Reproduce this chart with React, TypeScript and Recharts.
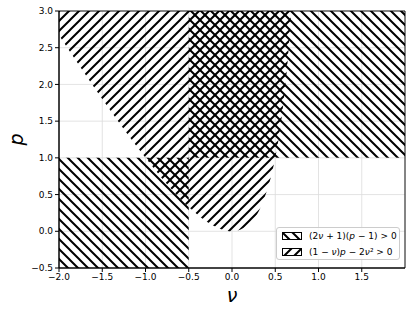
import React from 'react';
import { ComposedChart, Area, XAxis, YAxis, CartesianGrid, ReferenceArea } from 'recharts';

const nuTicks = [-2, -1.5, -1, -0.5, 0, 0.5, 1, 1.5];
const pTicks = [-0.5, 0, 0.5, 1, 1.5, 2, 2.5, 3];

// lower edge of the (1 - ν)p - 2ν² > 0 region
const boundaryNu = [-2, -1.75, -1.5, -1.25, -1, -0.75, -0.5, -0.25, 0, 0.2, 0.35, 0.45, 0.5, 0.55, 0.6, 0.65, 0.685];
const boundaryP = [2.67, 2.23, 1.8, 1.39, 1.0, 0.64, 0.33, 0.1, 0, 0.1, 0.38, 0.74, 1.0, 1.34, 1.8, 2.41, 3.0];

// (2ν + 1)(p - 1) > 0 : two rectangles
const rectNu1 = [-0.5, -2];
const rectNu2 = [2, -0.5];
const rectP1 = [1, -0.5];
const rectP2 = [3, 1];

const legendLabels = ['(2ν + 1)(p − 1) > 0', '(1 − ν)p − 2ν² > 0'];

const band = boundaryNu.map((nu, i) => ({ nu, range: [boundaryP[i], 3] }));

const fmt = (v: number) => v.toFixed(1).replace('-', '\u2212');

const FONT = '"DejaVu Sans", sans-serif';

if (typeof document !== 'undefined') document.body.style.margin = '0';

const Hatch = ({ id, dir }: { id: string; dir: 'back' | 'fwd' }) => {
  const s = 10;
  const d =
    dir === 'back'
      ? `M0,0 L${s},${s} M${-s / 2},${s / 2} L${s / 2},${s * 1.5} M${s / 2},${-s / 2} L${s * 1.5},${s / 2}`
      : `M0,${s} L${s},0 M${-s / 2},${s / 2} L${s / 2},${-s / 2} M${s / 2},${s * 1.5} L${s * 1.5},${s / 2}`;
  return (
    <pattern id={id} patternUnits="userSpaceOnUse" width={s} height={s}>
      <path d={d} stroke="#000" strokeWidth={2} fill="none" />
    </pattern>
  );
};

const MathLabel = ({ text }: { text: string }) => (
  <span>
    {text.split('').map((c, i) =>
      c === 'ν' || c === 'p' ? (
        <i key={i}>{c}</i>
      ) : (
        <span key={i}>{c}</span>
      )
    )}
  </span>
);

export default function App() {
  return (
    <div style={{ position: 'relative', width: 415, height: 314, background: '#fff', fontFamily: FONT }}>
      <ComposedChart
        width={415}
        height={314}
        data={band}
        margin={{ top: 11, right: 10, left: 9, bottom: 10 }}
      >
        <defs>
          <Hatch id="hatchBack" dir="back" />
          <Hatch id="hatchFwd" dir="fwd" />
        </defs>
        <CartesianGrid stroke="#dcdcdc" strokeWidth={0.8} />
        <XAxis
          dataKey="nu"
          type="number"
          domain={[-2, 2]}
          ticks={nuTicks}
          tickFormatter={fmt}
          allowDataOverflow
          height={36}
          tickSize={4}
          tickMargin={2}
          stroke="#000"
          tick={{ fill: '#000', fontSize: 9, fontFamily: FONT }}
          label={{
            content: (props: any) => {
              const vb = props.viewBox || {};
              return (
                <text
                  x={vb.x + vb.width / 2}
                  y={vb.y + 34}
                  textAnchor="middle"
                  fontSize={19}
                  fontStyle="italic"
                  fontFamily={FONT}
                  fill="#000"
                >
                  ν
                </text>
              );
            },
          }}
        />
        <YAxis
          type="number"
          domain={[-0.5, 3]}
          ticks={pTicks}
          tickFormatter={fmt}
          allowDataOverflow
          width={50}
          tickSize={4}
          tickMargin={2}
          stroke="#000"
          tick={{ fill: '#000', fontSize: 9, fontFamily: FONT }}
          label={{
            content: (props: any) => {
              const vb = props.viewBox || {};
              const x = vb.x + 14;
              const y = vb.y + vb.height / 2;
              return (
                <text
                  x={x}
                  y={y}
                  transform={`rotate(-90 ${x} ${y})`}
                  textAnchor="middle"
                  fontSize={19}
                  fontStyle="italic"
                  fontFamily={FONT}
                  fill="#000"
                >
                  p
                </text>
              );
            },
          }}
        />
        {rectNu1.map((n1, i) => (
          <ReferenceArea
            key={i}
            x1={n1}
            x2={rectNu2[i]}
            y1={rectP1[i]}
            y2={rectP2[i]}
            fill="url(#hatchBack)"
            fillOpacity={1}
            stroke="none"
          />
        ))}
        <Area
          dataKey="range"
          type="monotone"
          fill="url(#hatchFwd)"
          fillOpacity={1}
          stroke="none"
          isAnimationActive={false}
          activeDot={false}
          dot={false}
        />
        <ReferenceArea x1={-2} x2={2} y1={-0.5} y2={3} fill="none" stroke="#000" strokeWidth={0.9} />
      </ComposedChart>
      <div
        style={{
          position: 'absolute',
          left: 276,
          top: 227,
          width: 124,
          height: 33,
          border: '1px solid #ccc',
          borderRadius: 3,
          background: 'rgba(255,255,255,0.85)',
          boxSizing: 'border-box',
          fontSize: 9,
          color: '#000',
        }}
      >
        {legendLabels.map((t, i) => (
          <div
            key={i}
            style={{ position: 'absolute', left: 5, top: i === 0 ? 3 : 19, display: 'flex', alignItems: 'center', whiteSpace: 'nowrap' }}
          >
            <svg width={20} height={8} style={{ marginRight: 7 }}>
              <rect
                x={0.5}
                y={0.5}
                width={19}
                height={7}
                fill={i === 0 ? 'url(#hatchBack)' : 'url(#hatchFwd)'}
                stroke="#000"
                strokeWidth={1}
              />
            </svg>
            <MathLabel text={t} />
          </div>
        ))}
      </div>
    </div>
  );
}
